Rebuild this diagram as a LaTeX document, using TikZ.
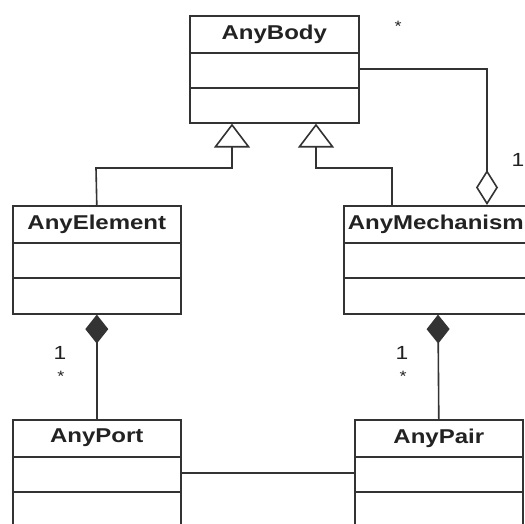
\documentclass[tikz,border=0pt]{standalone}
\usepackage{fontspec}
\setmainfont{Liberation Sans}
\newfontfamily\umlfont[FakeStretch=1.2]{Liberation Sans}
\usetikzlibrary{arrows.meta}

\definecolor{lineclr}{HTML}{333333}
\definecolor{txtclr}{HTML}{222222}

\tikzset{
  line/.style={draw=lineclr, line width=1.6pt},
  cls/.style={draw=lineclr, line width=1.6pt, fill=white, rectangle,
              inner sep=0pt, anchor=north west},
  ttl/.style={font=\umlfont\bfseries\fontsize{20}{24}\selectfont,
              text=txtclr, inner sep=0pt},
  mult/.style={font=\umlfont\fontsize{19}{22}\selectfont, text=txtclr, inner sep=0pt},
  star/.style={font=\umlfont\fontsize{15}{16}\selectfont, text=txtclr, inner sep=0pt},
  gen/.style={line, -{Triangle[open, fill=white, length=24pt, width=36pt]}},
  agg/.style={line, -{Diamond[open, fill=white, length=35pt, width=22pt]}},
  comp/.style={line, -{Diamond[length=29pt, width=23pt]}},
}

% class box: name, x, y, width, height, title
\newcommand\umlclass[6]{%
  \node[cls, minimum width=#4pt, minimum height=#5pt] (#1) at (#2,#3) {};
  \node[ttl] (#1-title) at ([yshift=-19pt]#1.north) {#6};
  \draw[line] ([yshift=-38pt]#1.north west) -- ([yshift=-38pt]#1.north east);
  \draw[line] ([yshift=-73pt]#1.north west) -- ([yshift=-73pt]#1.north east);
}

\begin{document}
\begin{tikzpicture}[x=1pt, y=-1pt]
  \useasboundingbox (0,0) rectangle (525,524);
  \clip (0,0) rectangle (525,524);
  \fill[white] (0,0) rectangle (525,524);

  % classes
  \umlclass{body}{189}{15}{169}{107}{AnyBody}
  \umlclass{elem}{12}{205}{168}{108}{AnyElement}
  \umlclass{mech}{343}{205}{184}{108}{AnyMechanism}
  \umlclass{port}{12}{419}{168}{130}{AnyPort}
  \umlclass{pair}{354}{419}{168}{130}{AnyPair}

  % connection points on the boxes
  \coordinate (bodyL) at ([xshift=43pt]body.south west);
  \coordinate (bodyR) at ([xshift=127pt]body.south west);
  \coordinate (mechG) at ([xshift=49pt]mech.north west);
  \coordinate (mechA) at ([xshift=144pt]mech.north west);
  \coordinate (mechC) at ([xshift=95pt]mech.south west);
  \coordinate (portA) at ([yshift=-54pt]port.north east);
  \coordinate (pairA) at ([yshift=-54pt]pair.north west);
  \coordinate (elbowL) at (96,168);
  \coordinate (elbowR) at (392,168);

  % generalizations
  \draw[gen] (elem.north) -- (elbowL) -| (bodyL);
  \draw[gen] (mechG) -- (elbowR) -| (bodyR);

  % aggregation
  \draw[agg] (body.east) -| (mechA);

  % compositions
  \draw[comp] (port.north) -- (elem.south);
  \draw[comp] (pair.north) -- (mechC);

  % association
  \draw[line] (portA) -- (pairA);

  % multiplicities
  \node[star] (mTop) at (398,26) {*};
  \node[mult] (mAgg) at (518,160) {1};
  \node[mult] (mElem1) at (60,353) {1};
  \node[star] (mElem2) at (61,376) {*};
  \node[mult] (mMech1) at (402,353) {1};
  \node[star] (mMech2) at (403,376) {*};
\end{tikzpicture}
\end{document}
